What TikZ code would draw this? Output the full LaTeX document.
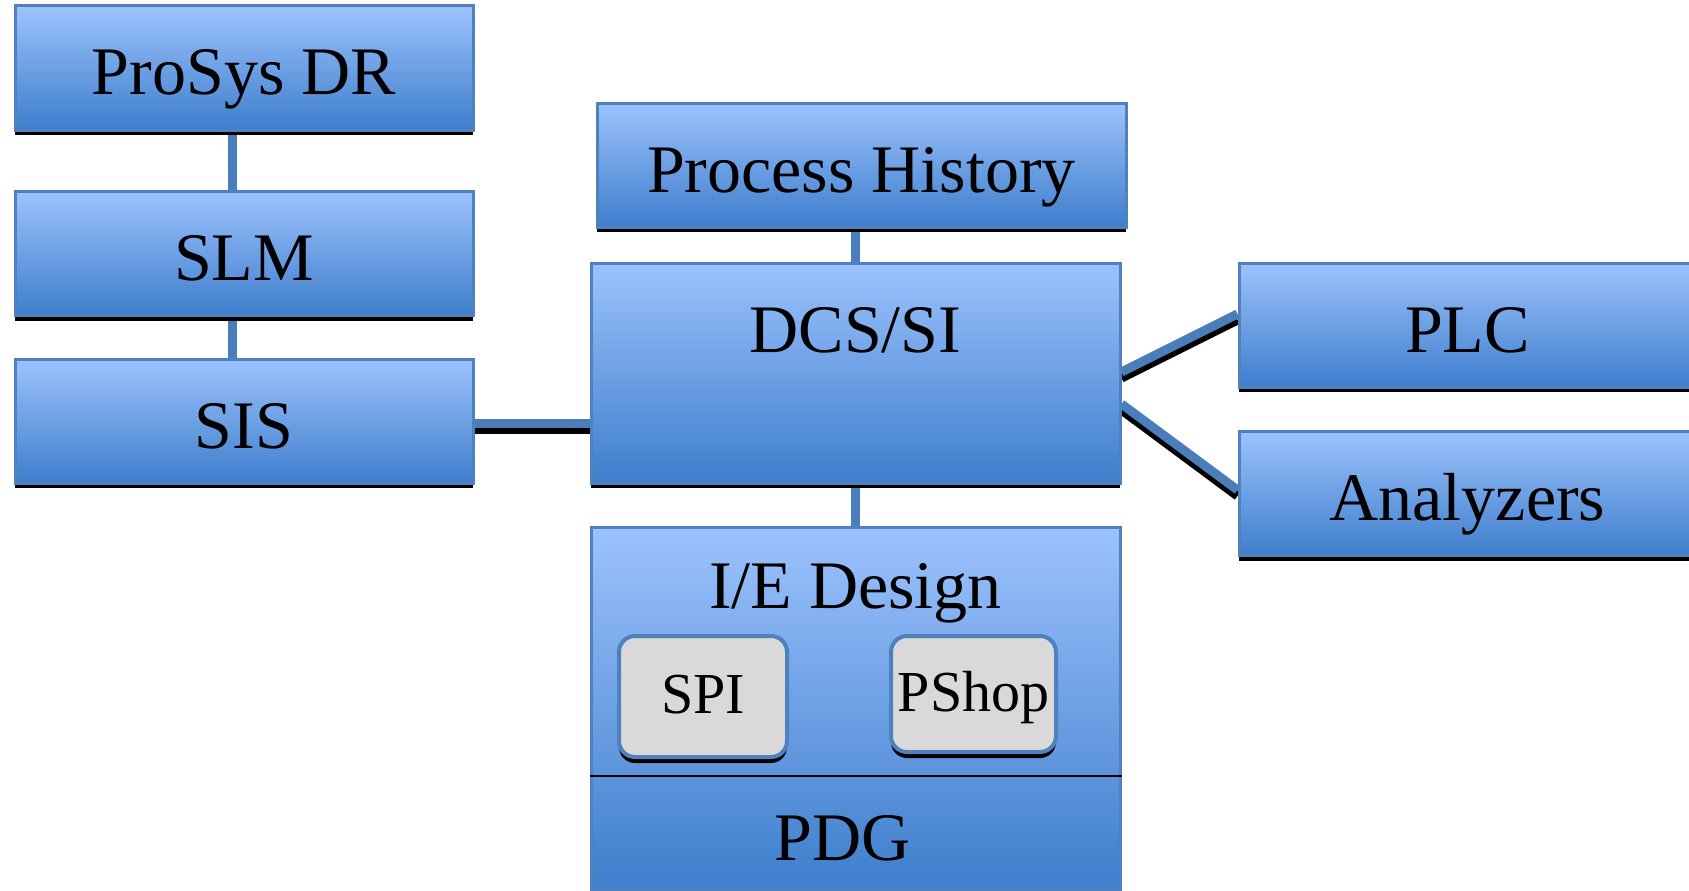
\documentclass[tikz,border=0pt]{standalone}
\usepackage{fontspec}
\setmainfont{Liberation Serif}
\usetikzlibrary{shadows, backgrounds}
\definecolor{boxtop}{HTML}{9CC2FD}
\definecolor{boxbot}{HTML}{3E7ECC}
\definecolor{boxline}{HTML}{4F81BD}
\definecolor{linkblue}{HTML}{4A7EBB}
\definecolor{toolfill}{HTML}{D9D9D9}
\tikzset{
    block/.style={
        rectangle, draw=boxline, line width=3pt,
        top color=boxtop, bottom color=boxbot,
        drop shadow={shadow xshift=0pt, shadow yshift=-5pt, fill=black, opacity=1},
        minimum width=458pt, minimum height=124pt, inner sep=0pt,
        font=\fontsize{68pt}{80pt}\selectfont,
        text height=54pt, text depth=0pt
    },
    band/.style={
        rectangle, minimum width=300pt, minimum height=114pt, inner sep=0pt,
        font=\fontsize{68pt}{80pt}\selectfont,
        text height=54pt, text depth=0pt
    },
    tool/.style={
        rectangle, rounded corners=16pt, draw=boxline, line width=4pt,
        fill=toolfill,
        drop shadow={shadow xshift=0pt, shadow yshift=-6pt, fill=black, opacity=1},
        inner sep=0pt, font=\fontsize{58pt}{68pt}\selectfont,
        text height=34pt, text depth=0pt
    },
    link/.style={
        draw=linkblue, line width=9pt,
        preaction={draw=black, line width=9pt, transform canvas={yshift=-6pt}}
    },
    divider/.style={draw=black, line width=1.5pt}
}

\begin{document}
\begin{tikzpicture}[x=1pt, y=-1pt]
\path[use as bounding box] (0,0) rectangle (1689,891);
\clip (0,0) rectangle (1689,891);

% Safety chain
\node[block] (prosys) at (244,68) {ProSys DR};
\node[block] (slm) at (244,253.5) {SLM};
\node[block] (sis) at (244,421) {SIS};

% Control system and history
\node[block, minimum width=529pt] (hist) at (861.5,165) {Process History};
\node[block, minimum width=529pt, minimum height=220pt, text depth=96pt] (dcs) at (855.5,373) {DCS/SI};

% Design tools
\node[block, minimum width=529pt, minimum height=363pt, text depth=255pt] (ie) at (855.5,708.5) {I/E Design};
\node[band] (pdg) at (843,833) {PDG};
\draw[divider] (ie.west |- pdg.north) -- (ie.east |- pdg.north);
\node[tool, minimum width=168pt, minimum height=121pt] (spi) at (703,696.5) {SPI};
\node[tool, minimum width=165pt, minimum height=116pt] (pshop) at (973.5,694) {PShop};

% Field side
\node[block, minimum width=457pt] (plc) at (1467.5,325) {PLC};
\node[block, minimum width=457pt] (ana) at (1467.5,493.5) {Analyzers};

% Links
\begin{scope}[on background layer]
\draw[link] ([xshift=-12pt]prosys.south) -- ([xshift=-12pt]slm.north);
\draw[link] ([xshift=-12pt]slm.south) -- ([xshift=-12pt]sis.north);
\draw[link] ([yshift=-2.5pt]sis.east) -- ([yshift=-2.5pt]sis.east -| dcs.west);
\draw[link] (dcs.north |- hist.south) -- (dcs.north);
\draw[link] (dcs.south) -- (ie.north);
\draw[link] ([yshift=1pt]dcs.east) -- ([yshift=11pt]plc.west);
\draw[link] ([yshift=-31pt]dcs.east) -- ([yshift=3.5pt]ana.west);
\end{scope}

\end{tikzpicture}
\end{document}
